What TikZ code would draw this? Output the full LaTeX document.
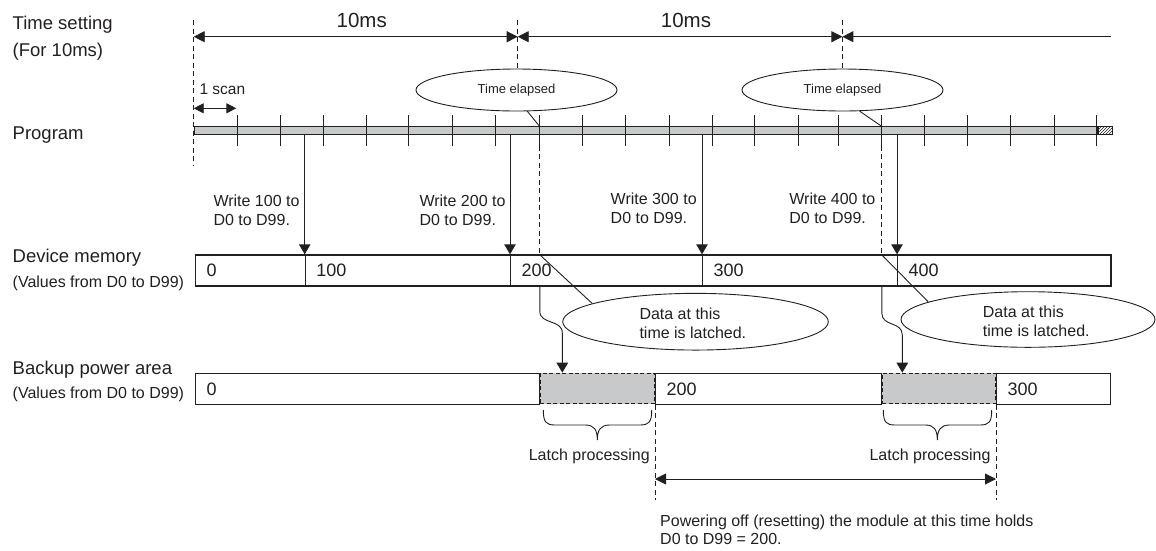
\documentclass[tikz,border=0pt]{standalone}
\usepackage{fontspec}
\setmainfont{Liberation Sans}
\usetikzlibrary{arrows.meta,shapes.geometric,patterns}
\definecolor{boxgray}{RGB}{200,201,202}
\definecolor{ink}{RGB}{35,31,32}
\tikzset{
  brc/.pic={\draw[line width=0.9pt,ink] (0,0) .. controls (0,12) and (2.7,15) .. (11.7,15) -- (42,15)
     .. controls (51,15) and (54,20) .. (54,30) .. controls (54,20) and (57.3,15) .. (66.3,15)
     -- (96.7,15) .. controls (105.7,15) and (108.4,12) .. (108.4,0);}
}
\begin{document}
\begin{tikzpicture}[x=1pt,y=-1pt,every node/.style={text=ink},
  lab/.style={anchor=west,inner sep=0pt,font=\fontsize{18.5}{22}\selectfont},
  sub/.style={anchor=west,inner sep=0pt,font=\fontsize{16}{19}\selectfont},
  note/.style={anchor=west,inner sep=0pt,align=left,font=\fontsize{16}{18.6}\selectfont},
  dnote/.style={anchor=west,inner sep=0pt,align=left,font=\fontsize{16}{19}\selectfont},
  pnote/.style={anchor=west,inner sep=0pt,align=left,font=\fontsize{16}{17.3}\selectfont},
  big/.style={inner sep=0pt,font=\fontsize{20.5}{24}\selectfont},
  dsh/.style={ink,line width=0.9pt,dash pattern=on 5pt off 3.5pt},
  thinl/.style={ink,line width=0.9pt},
  dimarr/.style={ink,line width=0.9pt,{Triangle[length=11pt,width=11pt]}-{Triangle[length=11pt,width=11pt]}},
  larr/.style={ink,line width=0.9pt,{Triangle[length=11pt,width=11pt]}-},
  sarr/.style={ink,line width=0.9pt,{Triangle[length=10pt,width=10pt]}-{Triangle[length=10pt,width=10pt]}},
  warr/.style={ink,line width=0.9pt,-{Triangle[length=10pt,width=11.5pt]}},
  tell/.style={ellipse,draw=ink,line width=0.9pt,minimum width=201pt,minimum height=42pt,inner sep=0pt,font=\fontsize{13}{15}\selectfont},
  dell/.style={ellipse,draw=ink,line width=0.9pt,inner sep=0pt},
  cell/.style={draw=ink,line width=1.2pt,anchor=north west,minimum height=31pt,inner xsep=11pt,inner ysep=0pt,align=left,font=\fontsize{18}{21}\selectfont},
  gcell/.style={draw=ink,fill=boxgray,line width=0.9pt,dash pattern=on 4pt off 2.5pt,anchor=north west,minimum height=30.6pt,inner sep=0pt},
  barn/.style={draw=ink,fill=boxgray,line width=1pt,anchor=north west,minimum height=8.3pt,inner sep=0pt},
]
\useasboundingbox (0,0) rectangle (1156,550);

% left labels
\node[lab] (ts) at (12.5,25.2) {Time setting};
\node[lab] (tsf) at (12.5,52) {(For 10ms)};
\node[lab] (prog) at (12.5,134.6) {Program};
\node[lab] (dm) at (12.5,258) {Device memory};
\node[sub] (dmv) at (12.5,283.5) {(Values from D0 to D99)};
\node[lab] (bp) at (12.5,369.3) {Backup power area};
\node[sub] (bpv) at (12.5,394.6) {(Values from D0 to D99)};

% guide coordinates
\coordinate (g0t) at (193.7,20);
\coordinate (g0b) at (193.7,165);
\coordinate (g1t) at (517.7,20);
\coordinate (g2t) at (842.4,20);

% top time axis
\coordinate (a0) at (193.7,36.7);
\coordinate (a1) at (517.7,36.7);
\coordinate (a2) at (842.4,36.7);
\coordinate (a3) at (1111,36.7);
\draw[dimarr] (a0) -- (a1);
\draw[dimarr] (a1) -- (a2);
\draw[larr] (a2) -- (a3);
\node[big] (t1) at (361.7,20.7) {10ms};
\node[big] (t2) at (686,20.7) {10ms};

% time elapsed bubbles
\node[tell] (te1) at (516.5,90) {Time elapsed};
\node[tell] (te2) at (842.5,90) {Time elapsed};
\draw[dsh] (g0t) -- (g0b);
\draw[dsh] (g1t) -- (g1t |- te1.north);
\draw[dsh] (g2t) -- (g2t |- te2.north);

% 1 scan
\node[sub,font=\fontsize{15.5}{18}\selectfont] (scan) at (199.3,89.3) {1 scan};
\coordinate (s0) at (193.7,108.3);
\coordinate (s1) at (236.3,108.3);
\draw[sarr] (s0) -- (s1);

% program bar
\node[barn,minimum width=903pt] (bar) at (193.7,126) {};
\node[draw=ink,line width=1pt,pattern=north east lines,pattern color=ink,anchor=north west,minimum width=14.3pt,minimum height=8.3pt,inner sep=0pt] (hat) at (bar.north east) {};
\foreach \x in {237.3,280,323,366,408.7,452.7,495.7,539.3,582.7,625.7,669,712,754.6,798.3,838.2,881.2,924.1,967.4,1010.8,1054.1,1096.7}
  \draw[thinl] (\x,115) -- (\x,145.7);

% elapsed markers
\coordinate (e1) at (539.3,126);
\coordinate (e2) at (881.2,126);
\draw[thinl] (te1.-63) -- (e1);
\draw[thinl] (te2.-51) -- (e2);

% device memory cells
\node[cell,text width=87.7pt] (m0) at (195,254.3) {0};
\node[cell,text width=183.3pt] (m1) at (304.7,254.3) {100};
\node[cell,text width=170pt] (m2) at (510,254.3) {200};
\node[cell,text width=173pt] (m3) at (702,254.3) {300};
\node[cell,text width=191.4pt] (m4) at (897,254.3) {400};

\coordinate (e1d) at (539.3,254.3);
\coordinate (e2d) at (881.2,254.3);
\draw[dsh] (e1 |- 0,145.7) -- (e1d);
\draw[dsh] (e2 |- 0,145.7) -- (e2d);

% write arrows
\draw[warr] (m1.north west |- bar.south) -- (m1.north west);
\draw[warr] (m2.north west |- bar.south) -- (m2.north west);
\draw[warr] (m3.north west |- bar.south) -- (m3.north west);
\draw[warr] (m4.north west |- bar.south) -- (m4.north west);
\node[note] (w1) at (213.3,210) {Write 100 to\\D0 to D99.};
\node[note] (w2) at (419.3,210) {Write 200 to\\D0 to D99.};
\node[note] (w3) at (610.5,208.5) {Write 300 to\\D0 to D99.};
\node[note] (w4) at (789.2,208.5) {Write 400 to\\D0 to D99.};

% latched bubbles
\node[dell,minimum width=265.6pt,minimum height=56.7pt] (d1) at (695.5,321.7) {};
\node[dell,minimum width=254pt,minimum height=55.6pt] (d2) at (1028,319.5) {};
\node[dnote] (d1t) at (639.3,322.8) {Data at this\\time is latched.};
\node[dnote] (d2t) at (982.7,321.2) {Data at this\\time is latched.};
\draw[thinl] (e1d) -- (d1.170);
\draw[thinl] (e2d) -- (d2.170);

% backup cells
\node[gcell,minimum width=114.6pt] (g1) at (539.8,372.7) {};
\node[gcell,minimum width=113.6pt] (g2) at (881.8,372.7) {};
\node[cell,text width=322pt] (b0) at (195,372.7) {0};
\node[cell,text width=204.2pt] (b1) at (655,372.7) {200};
\node[cell,text width=91.5pt] (b2) at (996,372.7) {300};

% latch arrows
\coordinate (l1e) at (562.3,372.7);
\coordinate (l2e) at (902.3,372.7);
\draw[warr] (g1.north west |- m2.south) -- (539.8,311) .. controls (539.8,325) and (562.3,319) .. (562.3,333) -- (l1e);
\draw[warr] (g2.north west |- m3.south) -- (881.8,313) .. controls (881.8,327) and (902.3,321) .. (902.3,335) -- (l2e);

% braces
\pic at (543.3,410) {brc};
\pic at (883.3,410) {brc};
\node[sub,anchor=east] (lp1) at (650,456.6) {Latch processing};
\node[sub,anchor=east] (lp2) at (990.7,456.6) {Latch processing};

% power-off interval
\coordinate (pd1) at (655,500);
\coordinate (pd2) at (996,500);
\draw[dsh] (b1.south west) -- (pd1);
\draw[dsh] (b2.south west) -- (pd2);
\coordinate (pa) at (655,479);
\coordinate (pb) at (996,479);
\draw[dimarr] (pa) -- (pb);
\node[pnote] (pw) at (660,529.7) {Powering off (resetting) the module at this time holds\\D0 to D99 = 200.};
\end{tikzpicture}
\end{document}
